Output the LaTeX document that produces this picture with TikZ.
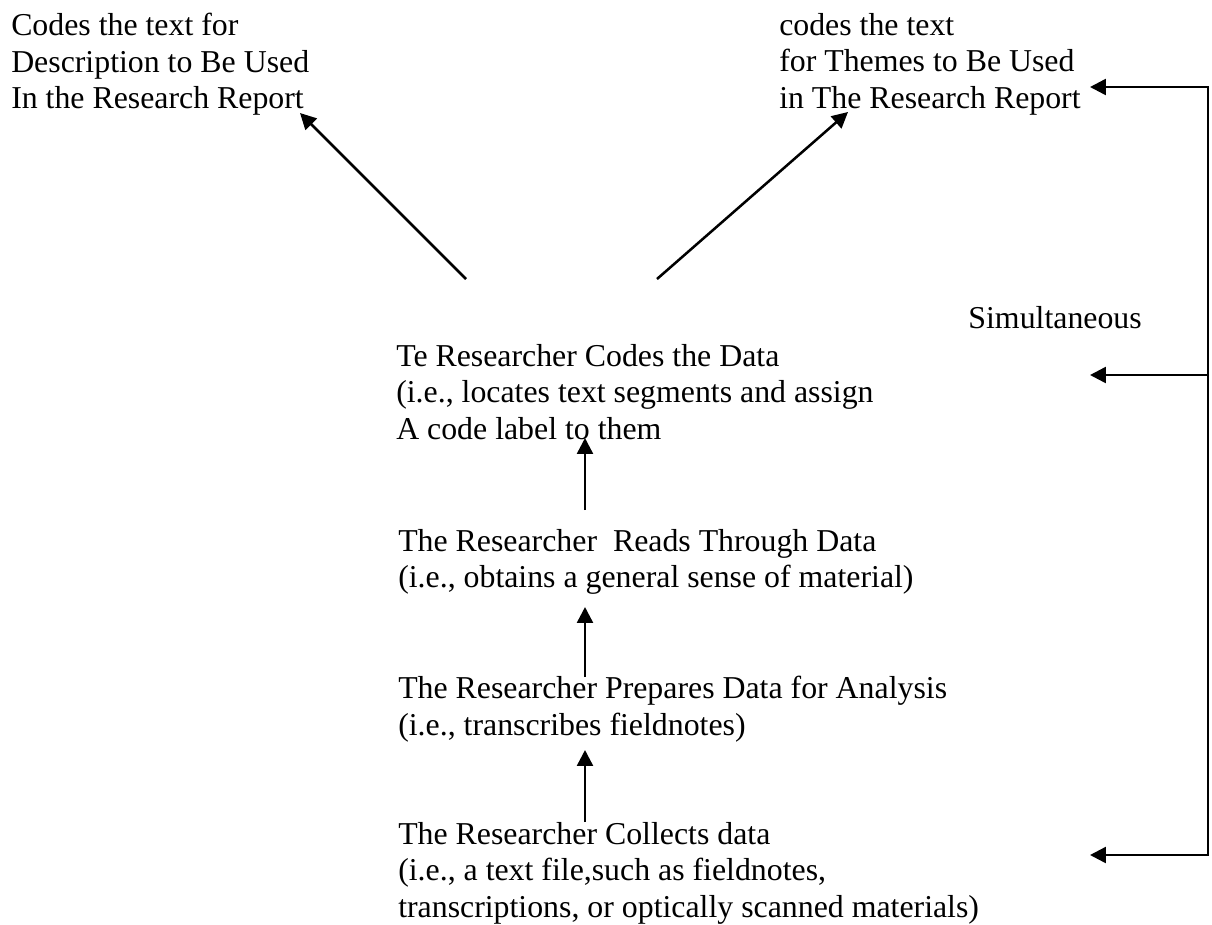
\documentclass[tikz,border=0pt]{standalone}
\usepackage{fontspec}
\setmainfont{Liberation Serif}
\usetikzlibrary{arrows.meta}
\begin{document}
\begin{tikzpicture}[x=0.377pt, y=-0.377pt, >={Triangle[length=6pt,width=6pt]}, line width=0.95pt,
  font=\fontsize{12}{13.8}\selectfont,
  txt/.style={anchor=north west, align=left, inner sep=0pt}]
\useasboundingbox (0,0) rectangle (1212,924);
\node[txt] (desc) at (10,12) {Codes the text for\\Description to Be Used\\In the Research Report};
\node[txt] (themes) at (778,12) {codes the text\\for Themes to Be Used\\in The Research Report};
\node[txt] (coding) at (395,343) {Te Researcher Codes the Data\\(i.e., locates text segments and assign\\A code label to them};
\node[txt] (reading) at (397,528) {The Researcher \ Reads Through Data\\(i.e., obtains a general sense of material)};
\node[txt] (preparing) at (397,675) {The Researcher Prepares Data for Analysis\\(i.e., transcribes fieldnotes)};
\node[txt] (collecting) at (397,821) {The Researcher Collects data\\(i.e., a text file,such as fieldnotes,\\transcriptions, or optically scanned materials)};
\node[anchor=base east, inner sep=0pt] (simul) at (1143,328) {Simultaneous};
\path
(466,279) coordinate (codeL)
(300,113) coordinate (descTip)
(657,279) coordinate (codeR)
(848,112) coordinate (themesTip)
(585,510) coordinate (readUp)
(585,438) coordinate (codeTip)
(585,677) coordinate (prepUp)
(585,607) coordinate (readTip)
(585,822) coordinate (collUp)
(585,750) coordinate (prepTip)
(1090,87) coordinate (loopTop)
(1208,375) coordinate (loopMid)
(1090,375) coordinate (simTip)
(1090,855) coordinate (loopBot)
;
\draw[->] (codeL) -- (descTip);
\draw[->] (codeR) -- (themesTip);
\draw[->] (readUp) -- (codeTip);
\draw[->] (prepUp) -- (readTip);
\draw[->] (collUp) -- (prepTip);
\draw[<->] (loopTop) -| (loopMid) |- (loopBot);
\draw[->] (loopMid) -- (simTip);
\end{tikzpicture}
\end{document}
